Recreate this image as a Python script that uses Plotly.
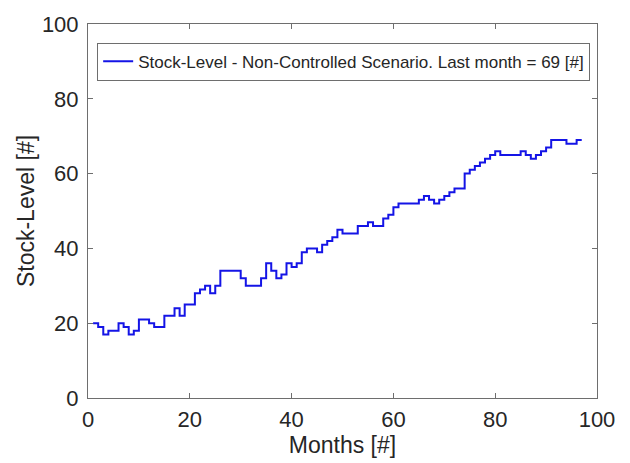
import plotly.graph_objects as go

months = list(range(1, 98))
stock_values = [
    20, 19, 17, 18, 18, 20, 19, 17, 18, 21,   # 1-10
    21, 20, 19, 19, 22, 22, 24, 22, 25, 25,   # 11-20
    28, 29, 30, 28, 30, 34, 34, 34, 34, 32,   # 21-30
    30, 30, 30, 32, 36, 34, 32, 33, 36, 35,   # 31-40
    36, 39, 40, 40, 39, 41, 42, 43, 45, 44,   # 41-50
    44, 44, 46, 46, 47, 46, 46, 48, 49, 51,   # 51-60
    52, 52, 52, 52, 53, 54, 53, 52, 53, 54,   # 61-70
    55, 56, 56, 60, 61, 62, 63, 64, 65, 66,   # 71-80
    65, 65, 65, 65, 66, 65, 64, 65, 66, 67,   # 81-90
    69, 69, 69, 68, 68, 69, 69,               # 91-97
]
x_ticks = [0, 20, 40, 60, 80, 100]
y_ticks = [0, 20, 40, 60, 80, 100]
legend_name = "Stock-Level - Non-Controlled Scenario. Last month = 69 [#]"

fig = go.Figure()
fig.add_trace(go.Scatter(
    x=months, y=stock_values, mode="lines",
    line=dict(color="#1414e6", width=2, shape="hv"),
    name=legend_name, showlegend=True,
))

axis_common = dict(
    showgrid=False, zeroline=False, showline=True, linecolor="#6e6e6e",
    linewidth=1, mirror="ticks", ticks="inside", ticklen=5, tickcolor="#6e6e6e",
    tickfont=dict(size=22, color="#262626", family="Liberation Sans"),
)

fig.update_layout(
    width=630, height=463,
    margin=dict(l=88, r=33, t=17, b=65),
    paper_bgcolor="white", plot_bgcolor="white",
    font=dict(family="Liberation Sans", color="#262626"),
    xaxis=dict(range=[0, 100], tickvals=x_ticks, ticklabelstandoff=2,
               title=dict(text="Months [#]", font=dict(size=23), standoff=2),
               **axis_common),
    yaxis=dict(range=[0, 100], tickvals=y_ticks, ticklabelstandoff=4,
               title=dict(text="Stock-Level [#]", font=dict(size=23), standoff=0),
               **axis_common),
    legend=dict(x=0.018, y=0.95, xanchor="left", yanchor="top",
                bordercolor="#6e6e6e", borderwidth=1, bgcolor="white",
                font=dict(size=17, color="#262626"),
                itemwidth=30, tracegroupgap=0),
    showlegend=True,
)

fig.write_html("out.html")
